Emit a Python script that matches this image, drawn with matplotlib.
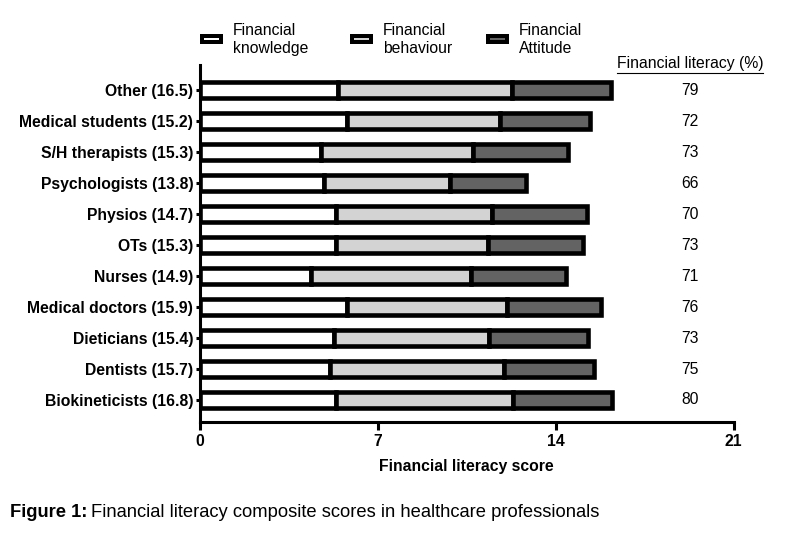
import matplotlib
matplotlib.use("Agg")
import matplotlib.pyplot as plt
from matplotlib.patches import Rectangle
from matplotlib.lines import Line2D

plt.rcParams['font.family'] = ['Liberation Sans', 'DejaVu Sans']

# ---- data (top to bottom as in the figure) ----
categories = ["Other (16.5)", "Medical students (15.2)", "S/H therapists (15.3)",
              "Psychologists (13.8)", "Physios (14.7)", "OTs (15.3)", "Nurses (14.9)",
              "Medical doctors (15.9)", "Dieticians (15.4)", "Dentists (15.7)",
              "Biokineticists (16.8)"]
knowledge = [5.46, 5.79, 4.76, 4.90, 5.35, 5.35, 4.40, 5.79, 5.28, 5.13, 5.35]
behaviour = [6.81, 6.03, 5.99, 4.97, 6.17, 5.99, 6.26, 6.30, 6.10, 6.84, 6.96]
attitude = [3.93, 3.55, 3.75, 2.98, 3.73, 3.74, 3.74, 3.69, 3.90, 3.54, 3.91]
literacy_pct = [79, 72, 73, 66, 70, 73, 71, 76, 73, 75, 80]
series_names = ["Financial\nknowledge", "Financial\nbehaviour", "Financial\nAttitude"]
xticks = [0, 7, 14, 21]

colors = ["#ffffff", "#d3d3d3", "#636363"]
FS = 11.3

W, H = 786, 533
fig = plt.figure(figsize=(W / 100, H / 100), dpi=100)
ax = fig.add_axes([199.5 / W, 1 - 422 / H, 534 / W, (422 - 65) / H])

n = len(categories)
ypos = [n - 1 - i for i in range(n)]
left = [0.0] * n
for vals, c in zip([knowledge, behaviour, attitude], colors):
    ax.barh(ypos, vals, left=left, height=0.53, color=c, edgecolor="black",
            linewidth=3.3, zorder=3)
    left = [l + v for l, v in zip(left, vals)]

ax.set_xlim(0, 21)
ax.set_ylim(-0.71, n - 1 + 0.81)
ax.set_xticks(xticks)
ax.set_xticklabels([str(t) for t in xticks], fontsize=FS, fontweight="bold")
ax.set_yticks(ypos)
ax.set_yticklabels(categories, fontsize=FS, fontweight="bold")
ax.tick_params(axis="x", direction="out", length=5.5, width=2.2, pad=3)
ax.tick_params(axis="y", direction="out", length=3, width=2.2, pad=1.5)
for s in ["top", "right"]:
    ax.spines[s].set_visible(False)
for s in ["left", "bottom"]:
    ax.spines[s].set_linewidth(2.2)
ax.set_xlabel("Financial literacy score", fontsize=FS, fontweight="bold", labelpad=7)

# right-hand percentage column
colx = (690 - 199.5) / 534
for y, p in zip(ypos, literacy_pct):
    ax.text(colx, y, str(p), transform=ax.get_yaxis_transform(), ha="center",
            va="center", fontsize=FS)

hdr = fig.text(690 / W, 1 - 68 / H, "Financial literacy (%)", ha="center",
               va="baseline", fontsize=FS)

# legend (manual)
leg_x = [200, 350, 486]
for lx, c, name in zip(leg_x, colors, series_names):
    lw_px = 4.0
    rect = Rectangle(((lx + lw_px / 2) / W, 1 - (44 - lw_px / 2) / H),
                     (23 - lw_px) / W, (10 - lw_px) / H, transform=fig.transFigure,
                     facecolor=c, edgecolor="black", linewidth=lw_px * 0.72)
    fig.patches.append(rect)
    fig.text((lx + 33) / W, 1 - 39.5 / H, name, ha="left", va="center",
             fontsize=FS, linespacing=1.22)

# caption
cap1 = fig.text(10 / W, 1 - 517 / H, "Figure 1:", ha="left", va="baseline",
                fontsize=13.2, fontweight="bold")
fig.canvas.draw()
r = fig.canvas.get_renderer()
bb = cap1.get_window_extent(r)
fig.text((bb.x1 + 4) / W, 1 - 517 / H,
         "Financial literacy composite scores in healthcare professionals",
         ha="left", va="baseline", fontsize=13.2)

hb = hdr.get_window_extent(r)
fig.lines.append(Line2D([hb.x0 / W, hb.x1 / W], [(hb.y0 - 1.5) / H] * 2,
                        transform=fig.transFigure, color="black", linewidth=0.8))

fig.savefig("out.png", dpi=100)
